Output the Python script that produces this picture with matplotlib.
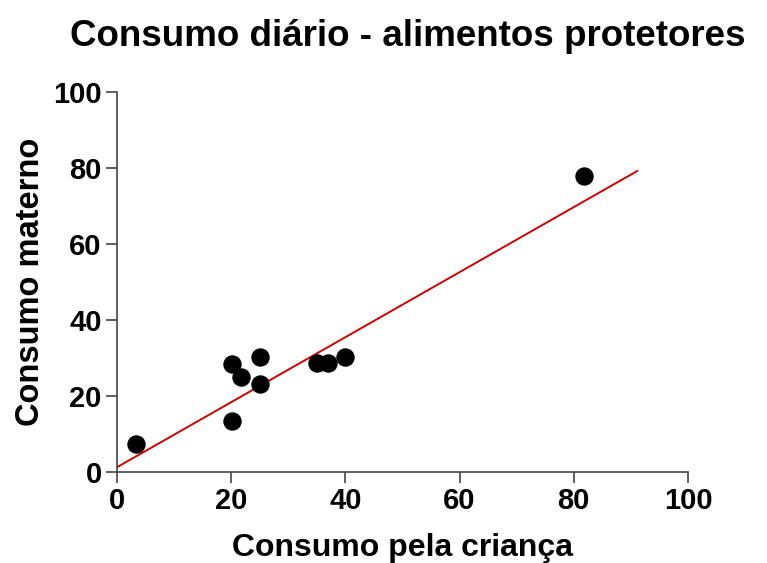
import matplotlib.pyplot as plt

crianca = [3.3, 20.1, 20.1, 21.8, 25.0, 25.0, 35.0, 36.9, 40.0, 81.7]
materno = [7.2, 28.5, 13.5, 25.0, 30.3, 23.2, 28.6, 28.6, 30.3, 78.0]
reta_x = [0, 91.1]
reta_y = [1.2, 79.2]

plt.rcParams['font.family'] = 'Liberation Sans'
plt.rcParams['font.weight'] = 'bold'

fig = plt.figure(figsize=(7.67, 5.63), dpi=100)
ax = fig.add_axes([0.1525, 0.162, 0.7445, 0.6745])

ax.scatter(crianca, materno, s=150, color='black', zorder=3)
ax.plot(reta_x, reta_y, color='#CC0000', lw=1.4, zorder=2)

ax.set_xlim(0, 100)
ax.set_ylim(0, 100)
ax.set_xticks([0, 20, 40, 60, 80, 100])
ax.set_yticks([0, 20, 40, 60, 80, 100])
ax.spines['top'].set_visible(False)
ax.spines['right'].set_visible(False)
for s in ['left', 'bottom']:
    ax.spines[s].set_color('#444444')
    ax.spines[s].set_linewidth(1.2)
ax.tick_params(direction='out', length=8, width=1.2, color='#444444', labelsize=21, pad=3)
for lab in ax.get_xticklabels() + ax.get_yticklabels():
    lab.set_fontweight('bold')

ax.set_xlabel('Consumo pela criança', fontsize=23, fontweight='bold', labelpad=13)
ax.set_ylabel('Consumo materno', fontsize=23.5, fontweight='bold', labelpad=5)
fig.text(408/767, 1 - 36/563, 'Consumo diário - alimentos protetores', fontsize=26.5,
         fontweight='bold', ha='center', va='center')

fig.savefig('out.png', dpi=100)
